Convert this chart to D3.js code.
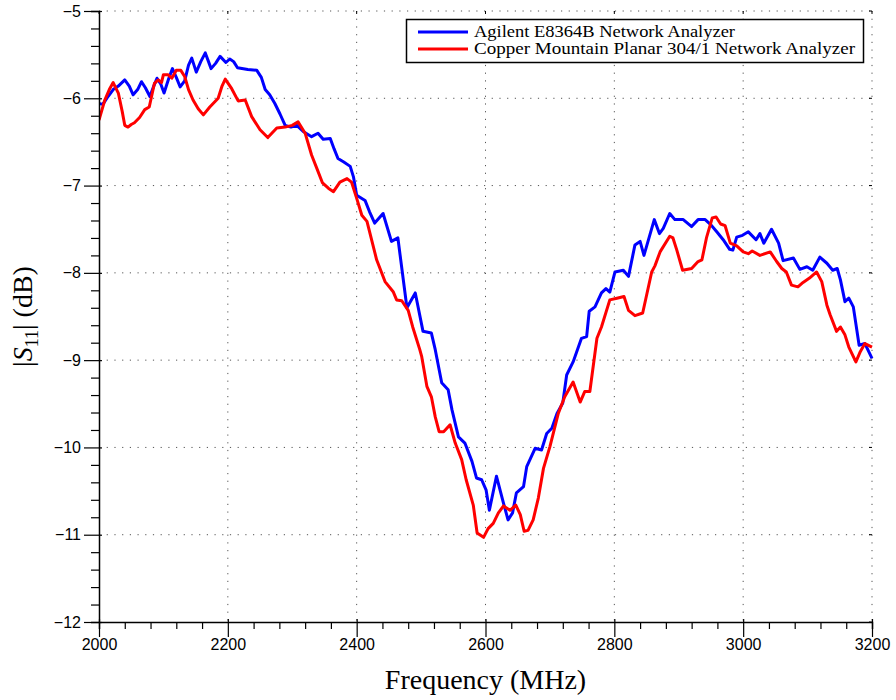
<!DOCTYPE html>
<html>
<head>
<meta charset="utf-8">
<script src="https://cdn.jsdelivr.net/npm/d3@7"></script>
<style>
  html, body { margin: 0; padding: 0; background: #fff; }
  svg { display: block; }
</style>
</head>
<body>
<svg id="chart" width="896" height="700"></svg>
<script>
// ---- Data ----
const seriesNames = ["Agilent E8364B Network Analyzer", "Copper Mountain Planar 304/1 Network Analyzer"];
const seriesColors = ["#0000ff", "#ff0000"];

const agilentFreq = [2000, 2006, 2014, 2022, 2030, 2040, 2047, 2053, 2060, 2066, 2072, 2079, 2085, 2090, 2096, 2101, 2108, 2114, 2120, 2126, 2133, 2139, 2144, 2151, 2158, 2165, 2170, 2174, 2181, 2188, 2197, 2203, 2209, 2215, 2231, 2245, 2252, 2258, 2265, 2273, 2281, 2289, 2298, 2307, 2317, 2330, 2340, 2348, 2359, 2365, 2371, 2380, 2390, 2395, 2400, 2413, 2420, 2428, 2441, 2454, 2464, 2478, 2491, 2503, 2516, 2522, 2532, 2542, 2548, 2558, 2568, 2579, 2586, 2594, 2601, 2606, 2617, 2628, 2635, 2642, 2648, 2659, 2664, 2677, 2687, 2695, 2703, 2711, 2720, 2726, 2736, 2749, 2757, 2761, 2770, 2780, 2787, 2793, 2801, 2814, 2822, 2832, 2840, 2846, 2862, 2870, 2876, 2886, 2894, 2907, 2920, 2930, 2941, 2950, 2959, 2969, 2979, 2984, 2990, 2999, 3008, 3020, 3026, 3032, 3044, 3055, 3062, 3078, 3088, 3099, 3108, 3119, 3130, 3139, 3146, 3151, 3158, 3164, 3171, 3180, 3189, 3200];
const agilentS11 = [-6.06, -6.07, -5.98, -5.90, -5.86, -5.79, -5.86, -5.96, -5.90, -5.81, -5.88, -5.98, -5.86, -5.77, -5.84, -5.94, -5.78, -5.66, -5.76, -5.87, -5.80, -5.62, -5.54, -5.70, -5.58, -5.48, -5.58, -5.66, -5.60, -5.52, -5.59, -5.55, -5.58, -5.65, -5.67, -5.68, -5.76, -5.90, -5.96, -6.06, -6.18, -6.31, -6.33, -6.31, -6.38, -6.44, -6.40, -6.47, -6.46, -6.58, -6.69, -6.73, -6.78, -6.90, -7.11, -7.17, -7.30, -7.43, -7.32, -7.64, -7.60, -8.40, -8.23, -8.67, -8.69, -8.88, -9.26, -9.34, -9.57, -9.88, -9.95, -10.16, -10.35, -10.37, -10.49, -10.72, -10.33, -10.64, -10.83, -10.75, -10.52, -10.45, -10.22, -10.01, -10.03, -9.84, -9.78, -9.61, -9.49, -9.17, -9.02, -8.75, -8.73, -8.44, -8.39, -8.23, -8.18, -8.22, -7.99, -7.97, -8.04, -7.68, -7.64, -7.80, -7.39, -7.55, -7.49, -7.32, -7.39, -7.39, -7.47, -7.39, -7.39, -7.45, -7.53, -7.62, -7.73, -7.74, -7.59, -7.57, -7.53, -7.62, -7.55, -7.66, -7.50, -7.66, -7.86, -7.83, -7.96, -7.93, -7.97, -7.82, -7.89, -7.97, -7.95, -8.08, -8.33, -8.29, -8.39, -8.83, -8.81, -8.98];

const copperFreq = [2000, 2009, 2016, 2022, 2030, 2036, 2040, 2045, 2050, 2055, 2063, 2071, 2078, 2086, 2092, 2097, 2100, 2107, 2113, 2120, 2127, 2133, 2139, 2146, 2154, 2162, 2172, 2185, 2191, 2196, 2206, 2216, 2227, 2237, 2250, 2262, 2276, 2289, 2300, 2309, 2320, 2330, 2338, 2347, 2356, 2364, 2374, 2385, 2392, 2401, 2408, 2416, 2431, 2444, 2457, 2462, 2470, 2480, 2487, 2498, 2501, 2509, 2516, 2522, 2528, 2535, 2545, 2553, 2563, 2570, 2581, 2587, 2597, 2604, 2612, 2620, 2628, 2638, 2647, 2654, 2660, 2666, 2674, 2682, 2690, 2700, 2713, 2723, 2736, 2747, 2754, 2762, 2773, 2780, 2793, 2804, 2815, 2822, 2832, 2844, 2858, 2863, 2871, 2886, 2891, 2897, 2906, 2920, 2930, 2936, 2943, 2952, 2958, 2965, 2972, 2980, 2990, 3000, 3008, 3014, 3026, 3042, 3052, 3060, 3067, 3075, 3085, 3093, 3103, 3114, 3122, 3130, 3135, 3145, 3151, 3158, 3164, 3175, 3182, 3189, 3200];
const copperS11 = [-6.25, -6.02, -5.90, -5.82, -5.94, -6.15, -6.31, -6.33, -6.30, -6.28, -6.22, -6.13, -6.10, -5.83, -5.79, -5.82, -5.73, -5.73, -5.77, -5.68, -5.68, -5.75, -5.90, -6.02, -6.12, -6.19, -6.10, -6.00, -5.86, -5.78, -5.89, -6.03, -6.02, -6.21, -6.36, -6.45, -6.34, -6.33, -6.31, -6.27, -6.40, -6.65, -6.80, -6.97, -7.03, -7.07, -6.96, -6.92, -6.96, -7.17, -7.34, -7.41, -7.85, -8.10, -8.22, -8.31, -8.32, -8.43, -8.62, -8.88, -8.96, -9.30, -9.42, -9.65, -9.82, -9.82, -9.74, -9.95, -10.14, -10.37, -10.66, -10.98, -11.03, -10.93, -10.87, -10.75, -10.67, -10.72, -10.66, -10.77, -10.96, -10.95, -10.83, -10.58, -10.24, -9.99, -9.61, -9.42, -9.25, -9.48, -9.36, -9.36, -8.75, -8.62, -8.31, -8.29, -8.27, -8.43, -8.49, -8.46, -7.99, -7.92, -7.76, -7.58, -7.60, -7.74, -7.97, -7.95, -7.87, -7.85, -7.60, -7.37, -7.36, -7.44, -7.46, -7.66, -7.69, -7.76, -7.78, -7.75, -7.80, -7.76, -7.87, -7.95, -7.99, -8.14, -8.16, -8.11, -8.06, -7.99, -8.10, -8.37, -8.48, -8.67, -8.62, -8.71, -8.85, -9.02, -8.90, -8.81, -8.85];

const xMajorTicks = [2000, 2200, 2400, 2600, 2800, 3000, 3200];
const yMajorTicks = [-5, -6, -7, -8, -9, -10, -11, -12];

// ---- Layout ----
const svg = d3.select("#chart");
const margin = {left: 99, right: 24, top: 11, bottom: 78};
const W = 896, H = 700;
const x = d3.scaleLinear().domain([2000, 3200]).range([margin.left, W - margin.right]);
const y = d3.scaleLinear().domain([-12, -5]).range([H - margin.bottom, margin.top]);
const x0 = x.range()[0], x1 = x.range()[1], y0 = y.range()[0], y1 = y.range()[1];

const gridColor = "#555";
const dash = "1.2,6.5";

// grid lines (dotted), including top and right edges
const grid = svg.append("g");
xMajorTicks.filter(v => v !== 2000).forEach(v => {
  grid.append("line").attr("x1", x(v)).attr("x2", x(v)).attr("y1", y1).attr("y2", y0)
    .attr("stroke", gridColor).attr("stroke-width", 1).attr("stroke-dasharray", dash);
});
yMajorTicks.filter(v => v !== -12).forEach(v => {
  grid.append("line").attr("x1", x0).attr("x2", x1).attr("y1", y(v)).attr("y2", y(v))
    .attr("stroke", gridColor).attr("stroke-width", 1).attr("stroke-dasharray", dash);
});
// small inward ticks on top and right
xMajorTicks.forEach(v => {
  grid.append("line").attr("x1", x(v)).attr("x2", x(v)).attr("y1", y1).attr("y2", y1 + 3).attr("stroke", "#000");
});
yMajorTicks.forEach(v => {
  grid.append("line").attr("x1", x1 - 3).attr("x2", x1).attr("y1", y(v)).attr("y2", y(v)).attr("stroke", "#000");
});

// ---- Lines ----
svg.append("clipPath").attr("id", "clip").append("rect")
  .attr("x", x0).attr("y", y1 - 2).attr("width", x1 - x0 + 2).attr("height", y0 - y1 + 4);
const line = d3.line().x(d => x(d[0])).y(d => y(d[1])).curve(d3.curveLinear);
const agilent = agilentFreq.map((f, i) => [f, agilentS11[i]]);
const copper = copperFreq.map((f, i) => [f, copperS11[i]]);
const lines = svg.append("g").attr("clip-path", "url(#clip)");
lines.append("path").datum(agilent).attr("d", line).attr("fill", "none")
  .attr("stroke", seriesColors[0]).attr("stroke-width", 3).attr("stroke-linejoin", "round");
lines.append("path").datum(copper).attr("d", line).attr("fill", "none")
  .attr("stroke", seriesColors[1]).attr("stroke-width", 3).attr("stroke-linejoin", "round");

// ---- Axes ----
const tickFont = "'Liberation Sans', Arial, sans-serif";
const fmt = v => (v < 0 ? "\u2212" + Math.abs(v) : String(v));

const xAxis = d3.axisBottom(x).tickValues(d3.range(2000, 3201, 40)).tickSizeOuter(0)
  .tickSize(7).tickFormat(v => xMajorTicks.includes(v) ? String(v) : "");
const gx = svg.append("g").attr("transform", `translate(0,${y0})`).call(xAxis);
gx.select(".domain").attr("stroke", "#000").attr("stroke-width", 1.5);
gx.selectAll(".tick line").attr("stroke", "#000").attr("stroke-width", 1.2);
gx.selectAll(".tick").filter(v => xMajorTicks.includes(v)).select("line").attr("y1", -3).attr("y2", 15);
gx.selectAll(".tick text").attr("y", 17).attr("font-family", tickFont).attr("font-size", 16)
  .attr("fill", "#000");

const yAxis = d3.axisLeft(y).tickValues(d3.range(-12, -4.99, 0.2).map(v => Math.round(v * 10) / 10))
  .tickSizeOuter(0).tickSize(8)
  .tickFormat(v => yMajorTicks.includes(v) ? fmt(v) : "");
const gy = svg.append("g").attr("transform", `translate(${x0},0)`).call(yAxis);
gy.select(".domain").attr("stroke", "#000").attr("stroke-width", 1.5);
gy.selectAll(".tick line").attr("stroke", "#000").attr("stroke-width", 1.2);
gy.selectAll(".tick").filter(v => yMajorTicks.includes(v)).select("line").attr("x1", 3).attr("x2", -15);
gy.selectAll(".tick text").attr("x", -18).attr("font-family", tickFont).attr("font-size", 16)
  .attr("fill", "#000");

// ---- Axis titles ----
const serif = "'Liberation Serif', 'DejaVu Serif', serif";
svg.append("text").attr("x", (x0 + x1) / 2).attr("y", 689).attr("text-anchor", "middle")
  .attr("font-family", serif).attr("font-size", 28).attr("fill", "#000")
  .text("Frequency (MHz)");

const yt = svg.append("text").attr("transform", `translate(32,${(y0 + y1) / 2}) rotate(-90)`)
  .attr("text-anchor", "middle").attr("font-family", serif).attr("font-size", 28).attr("fill", "#000");
yt.append("tspan").text("|");
yt.append("tspan").attr("font-style", "italic").text("S");
yt.append("tspan").attr("font-size", 18).attr("dy", 6).text("11");
yt.append("tspan").attr("dy", -6).text("| (dB)");

// ---- Legend ----
const lg = svg.append("g");
lg.append("rect").attr("x", 406.5).attr("y", 19.5).attr("width", 457).attr("height", 43)
  .attr("fill", "#fff").attr("stroke", "#000").attr("stroke-width", 1.5);
const legWidths = [261, 381];
seriesNames.forEach((name, i) => {
  const cy = 32 + i * 17;
  lg.append("line").attr("x1", 418).attr("x2", 468).attr("y1", cy).attr("y2", cy)
    .attr("stroke", seriesColors[i]).attr("stroke-width", 3);
  lg.append("text").attr("x", 474).attr("y", cy + 5).attr("font-family", serif).attr("font-size", 16)
    .attr("fill", "#000").attr("textLength", legWidths[i]).attr("lengthAdjust", "spacingAndGlyphs")
    .text(name);
});
</script>
</body>
</html>
